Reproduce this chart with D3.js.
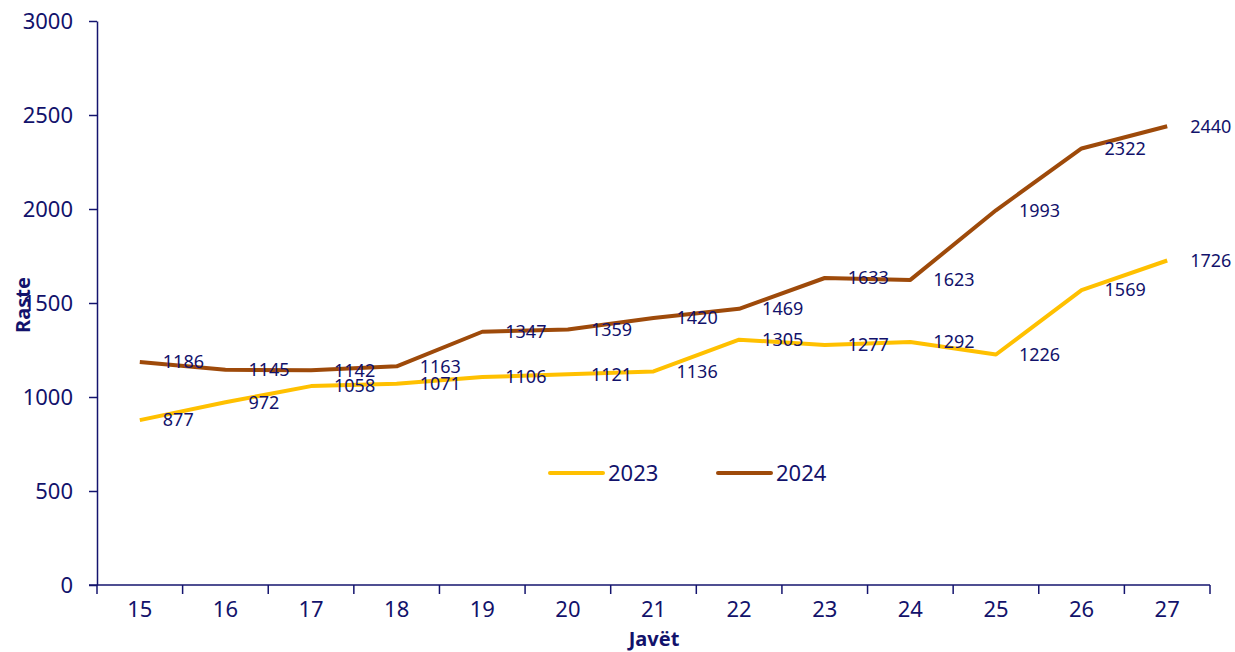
<!DOCTYPE html>
<html>
<head>
<meta charset="utf-8">
<script src="https://cdn.jsdelivr.net/npm/d3@7"></script>
<style>
  body { margin: 0; background: #fff; }
  text { font-family: "Noto Sans", "Open Sans", sans-serif; fill: #12126b; }
</style>
</head>
<body>
<div class="content"></div>
<script>
var svgWidth = 1235;
var svgHeight = 652;

// Chart data.
var weeks = ["15", "16", "17", "18", "19", "20", "21", "22", "23", "24", "25", "26", "27"];
var cases2023 = [877, 972, 1058, 1071, 1106, 1121, 1136, 1305, 1277, 1292, 1226, 1569, 1726];
var cases2024 = [1186, 1145, 1142, 1163, 1347, 1359, 1420, 1469, 1633, 1623, 1993, 2322, 2440];
var yTicks = [0, 500, 1000, 1500, 2000, 2500, 3000];
var seriesNames = ["2023", "2024"];

var axisColor = "#14146e";
var colors = {"2023": "#FFC000", "2024": "#9E4A0A"};

var svg = d3.select(".content")
  .append("svg")
  .attr("width", svgWidth)
  .attr("height", svgHeight);

var x = d3.scaleBand().domain(weeks).range([97, 1210]).padding(0);
var y = d3.scaleLinear().domain([0, 3000]).range([585, 21]);
var cx = function(w) { return x(w) + x.bandwidth() / 2; };

// Y axis.
var yAxis = svg.append("g")
  .attr("transform", "translate(97,0)")
  .call(d3.axisLeft(y).tickValues(yTicks).tickFormat(d3.format("d"))
    .tickSize(8).tickSizeOuter(0).tickPadding(16));
yAxis.select(".domain").attr("stroke", axisColor).attr("stroke-width", 1.5);
yAxis.selectAll(".tick line").attr("stroke", axisColor).attr("stroke-width", 1.5);
yAxis.selectAll(".tick text").attr("font-size", 22).attr("fill", axisColor);

// X axis: labels at category centres, ticks at band boundaries.
var xAxis = svg.append("g")
  .attr("transform", "translate(0,585)")
  .call(d3.axisBottom(x).tickSize(0).tickSizeOuter(0).tickPadding(16));
xAxis.select(".domain").remove();
xAxis.selectAll(".tick text").attr("font-size", 22).attr("fill", axisColor);

var bounds = weeks.map(function(w) { return x(w); }).concat([x.range()[1]]);
svg.append("line")
  .attr("x1", 89).attr("x2", 1210)
  .attr("y1", 585).attr("y2", 585)
  .attr("stroke", axisColor).attr("stroke-width", 1.5);
svg.selectAll(".xtick")
  .data(bounds)
  .enter().append("line")
  .attr("class", "xtick")
  .attr("x1", function(d) { return d; }).attr("x2", function(d) { return d; })
  .attr("y1", 585).attr("y2", 594)
  .attr("stroke", axisColor).attr("stroke-width", 1.5);

// Axis titles.
svg.append("text")
  .attr("transform", "translate(30,305) rotate(-90)")
  .attr("text-anchor", "middle")
  .attr("font-size", 20)
  .attr("font-weight", "bold")
  .text("Raste");
svg.append("text")
  .attr("x", 654).attr("y", 646)
  .attr("text-anchor", "middle")
  .attr("font-size", 20)
  .attr("font-weight", "bold")
  .text("Javët");

// Lines and labels.
var series = [
  {"name": "2023", "values": cases2023},
  {"name": "2024", "values": cases2024}
];

var line = d3.line()
  .x(function(d, i) { return cx(weeks[i]); })
  .y(function(d) { return y(d); });

series.forEach(function(s) {
  svg.append("path")
    .datum(s.values)
    .attr("d", line)
    .attr("fill", "none")
    .attr("stroke", colors[s.name])
    .attr("stroke-width", 4)
    .attr("stroke-linejoin", "round");
});

series.forEach(function(s) {
  svg.selectAll(".lbl" + s.name)
    .data(s.values)
    .enter().append("text")
    .attr("x", function(d, i) { return cx(weeks[i]) + 23; })
    .attr("y", function(d) { return y(d); })
    .attr("dy", "0.35em")
    .attr("font-size", 18)
    .text(function(d) { return d; });
});

// Legend.
var legend = svg.append("g");
seriesNames.forEach(function(name, i) {
  var lx = 550 + i * 168;
  legend.append("line")
    .attr("x1", lx).attr("x2", lx + 53)
    .attr("y1", 473).attr("y2", 473)
    .attr("stroke", colors[name])
    .attr("stroke-width", 4)
    .attr("stroke-linecap", "round");
  legend.append("text")
    .attr("x", lx + 58).attr("y", 473)
    .attr("dy", "0.35em")
    .attr("font-size", 22)
    .text(name);
});
</script>
</body>
</html>
